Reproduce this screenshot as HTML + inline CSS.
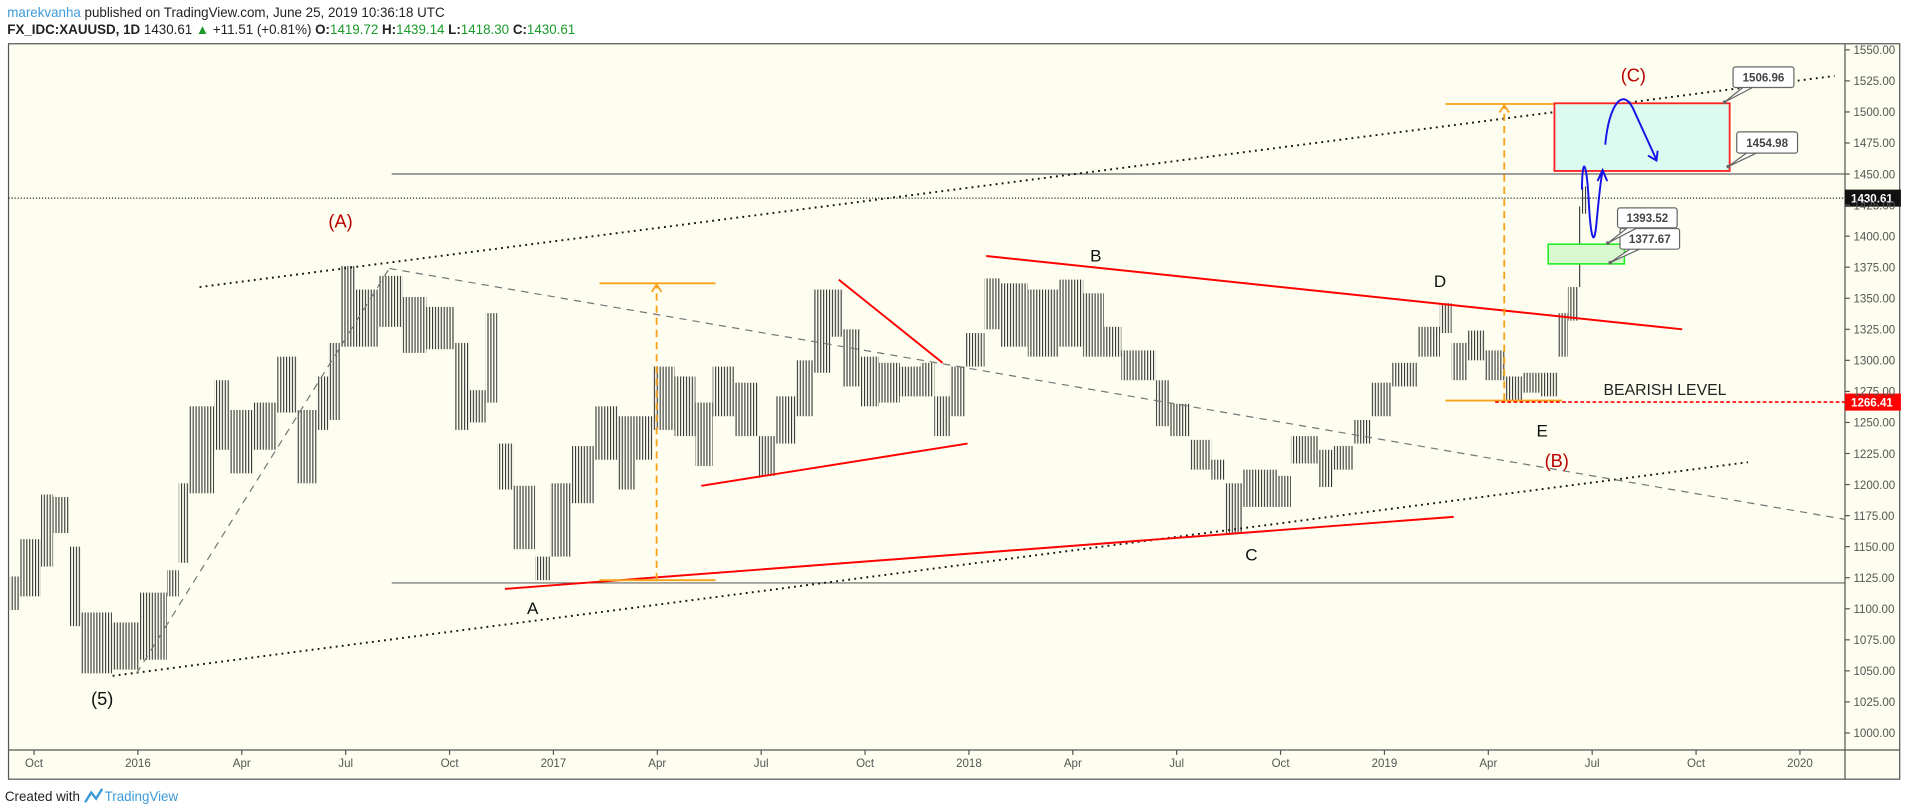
<!DOCTYPE html>
<html><head><meta charset="utf-8">
<style>
html,body{margin:0;padding:0;background:#fff;}
svg{display:block;font-family:"Liberation Sans",sans-serif;}
</style></head>
<body>
<svg id="chart" width="1907" height="812" viewBox="0 0 1568 668" preserveAspectRatio="none" xmlns="http://www.w3.org/2000/svg">
<defs>
<pattern id="stripes" width="2.4" height="10" patternUnits="userSpaceOnUse">
<rect x="0" y="0" width="0.9" height="10" fill="#333"/>
</pattern>
</defs>
<g>
<text x="6" y="14" font-size="11" fill="#222"><tspan fill="#3d9ad8">marekvanha</tspan> published on TradingView.com, June 25, 2019 10:36:18 UTC</text>
<text x="6" y="28" font-size="11" fill="#222"><tspan font-weight="bold">FX_IDC:XAUUSD, 1D</tspan> 1430.61 <tspan fill="#1a9a2a">▲</tspan> +11.51 (+0.81%) <tspan font-weight="bold">O:</tspan><tspan fill="#1a9a2a">1419.72</tspan> <tspan font-weight="bold">H:</tspan><tspan fill="#1a9a2a">1439.14</tspan> <tspan font-weight="bold">L:</tspan><tspan fill="#1a9a2a">1418.30</tspan> <tspan font-weight="bold">C:</tspan><tspan fill="#1a9a2a">1430.61</tspan></text>
</g>
<rect x="7" y="36" width="1555" height="605" fill="#fdfdf0" stroke="#555" stroke-width="1"/>
<line x1="1517" y1="36" x2="1517" y2="641" stroke="#555" stroke-width="1"/>
<line x1="7" y1="617" x2="1562" y2="617" stroke="#555" stroke-width="1"/>
<g id="grid"></g>
<g id="candles"></g>
<g id="overlays"></g>
<g id="axes"></g>
<g>
<text x="4" y="659" font-size="11" fill="#222">Created with</text>
<path d="M70 660 L75 652 L79 657 L84 649" fill="none" stroke="#3d9ad8" stroke-width="2"/>
<text x="86" y="659" font-size="11" fill="#3d9ad8">TradingView</text>
</g>
</svg>
<script>
// ---- data (t = months since 1 Oct 2015) ----
const barStart = [-0.7,-0.4,0.2,0.55,1.0,1.35,2.25,3.05,3.84,4.18,4.47,5.2,5.66,6.34,7.02,7.59,8.16,8.5,8.84,9.29,9.97,10.65,11.33,12.13,12.58,13.04,13.38,13.85,14.47,14.9,15.5,16.2,16.85,17.36,17.88,18.5,19.1,19.6,20.25,20.9,21.4,22.0,22.5,23.0,23.35,23.86,24.4,25.0,25.6,26.0,26.45,26.9,27.45,27.9,28.7,29.6,30.3,30.9,31.4,32.4,32.8,33.4,34.0,34.4,34.9,35.9,36.3,37.1,37.5,38.1,38.6,39.2,39.95,40.6,40.94,41.4,41.9,42.5,43.0,43.5,44.0,44.3,44.6,44.7];
const barLow = [1099,1110,1134,1161,1086,1048,1051,1059,1110,1137,1193,1228,1209,1228,1258,1201,1244,1252,1311,1311,1327,1306,1309,1244,1250,1266,1196,1148,1123,1142,1185,1220,1196,1220,1244,1239,1215,1255,1239,1207,1233,1255,1290,1319,1279,1263,1266,1271,1271,1239,1255,1295,1325,1311,1303,1311,1303,1303,1284,1247,1239,1212,1204,1161,1182,1182,1217,1198,1212,1233,1255,1279,1303,1322,1284,1300,1284,1268,1274,1271,1303,1332,1359,1418];
const barHigh = [1126,1156,1192,1190,1150,1097,1089,1113,1131,1201,1263,1284,1260,1266,1303,1260,1287,1314,1376,1357,1368,1351,1343,1314,1276,1338,1233,1199,1142,1201,1231,1263,1255,1255,1295,1287,1266,1295,1282,1239,1271,1300,1357,1357,1325,1303,1298,1295,1298,1271,1295,1322,1366,1362,1357,1365,1354,1327,1308,1284,1265,1236,1220,1201,1212,1207,1239,1228,1231,1252,1282,1298,1327,1346,1314,1324,1308,1287,1290,1290,1338,1359,1424,1440];
const lastBarEnd = 44.85;
const priceTicks = [1550,1525,1500,1475,1450,1425,1400,1375,1350,1325,1300,1275,1250,1225,1200,1175,1150,1125,1100,1075,1050,1025,1000];
const timeLabels = ['Oct','2016','Apr','Jul','Oct','2017','Apr','Jul','Oct','2018','Apr','Jul','Oct','2019','Apr','Jul','Oct','2020'];
const timeTickMonths = [0,3,6,9,12,15,18,21,24,27,30,33,36,39,42,45,48,51];
const lastPrice = 1430.61;
const bearishLevel = 1266.41;

const X = t => 28 + t*28.47;
const Y = p => 41 + (1550-p)*1.0218;
const NS = 'http://www.w3.org/2000/svg';
function mk(tag, attrs, parent){const e=document.createElementNS(NS,tag);for(const k in attrs)e.setAttribute(k,attrs[k]);parent.appendChild(e);return e;}

// candles
const cg = document.getElementById('candles');
for(let i=0;i<barStart.length;i++){
  const t0=barStart[i], t1=(i+1<barStart.length)?barStart[i+1]:lastBarEnd;
  const r = mk('rect',{x:X(t0),y:Y(barHigh[i]),width:Math.max(1,X(t1)-X(t0)),height:Math.max(2,Y(barLow[i])-Y(barHigh[i])),fill:'url(#stripes)'},cg);
  
  
}

// axes
const ax = document.getElementById('axes');
priceTicks.forEach(p=>{
  mk('line',{x1:1517,y1:Y(p),x2:1521,y2:Y(p),stroke:'#555'},ax);
  const tx = mk('text',{x:1524,y:Y(p)+3.5,'font-size':9.5,fill:'#555'},ax);
  tx.textContent = p.toFixed(2);
  
  
});
timeLabels.forEach((lab,i)=>{
  const x = X(timeTickMonths[i]);
  mk('line',{x1:x,y1:617,x2:x,y2:621,stroke:'#555'},ax);
  const tx = mk('text',{x:x,y:631,'font-size':9.5,fill:'#555','text-anchor':'middle'},ax);
  tx.textContent = lab;
  
  
});

// overlays
const ov = document.getElementById('overlays');
function ln(t1,p1,t2,p2,st,name){const l=mk('line',Object.assign({x1:X(t1),y1:Y(p1),x2:X(t2),y2:Y(p2)},st),ov);return l;}
const dotted={stroke:'#111','stroke-width':1.6,'stroke-dasharray':'1.5 3.5'};
const red={stroke:'#f00','stroke-width':1.6};
const grayDash={stroke:'#777','stroke-width':1,'stroke-dasharray':'6 5'};
const orange={stroke:'#f7a21b','stroke-width':1.5};
ln(10.33,1450,52.3,1450,{stroke:'#666','stroke-width':1},'resistance-1450');
ln(10.33,1120.8,52.3,1120.8,{stroke:'#666','stroke-width':1},'support-1120');
mk('line',{x1:7,y1:Y(lastPrice),x2:1517,y2:Y(lastPrice),stroke:'#333','stroke-width':1,'stroke-dasharray':'1 1.5'},ov);
ln(4.78,1359,52,1529,dotted,'upper-channel-line');
ln(2.27,1046,49.5,1218,dotted,'lower-channel-line');
ln(2.96,1048,10.26,1374,grayDash,'rising-dashed-line');
ln(10.26,1374,52.3,1172,grayDash,'falling-dashed-line');
ln(13.6,1116,41.0,1174,red,'triangle-lower-line');
ln(19.27,1199,26.96,1233,red,'flag-lower-line');
ln(23.24,1365,26.24,1298,red,'flag-upper-line');
ln(27.5,1384,47.6,1325,red,'triangle-upper-line');
ln(16.33,1362,19.68,1362,orange,'target-top-1');
ln(16.33,1123,19.68,1123,orange,'target-base-1');
ln(17.98,1123,17.98,1362,{stroke:'#f7a21b','stroke-width':1.5,'stroke-dasharray':'6 4'},'measure-arrow-1');
mk('path',{d:`M${X(17.98)-4} ${Y(1362)+7} L${X(17.98)} ${Y(1362)+1} L${X(17.98)+4} ${Y(1362)+7}`,fill:'none',stroke:'#f7a21b','stroke-width':1.5},ov);
ln(40.76,1506.4,44.13,1506.4,orange,'target-top-2');
ln(40.76,1267.6,44.13,1267.6,orange,'target-base-2');
ln(42.46,1267.6,42.46,1506.4,{stroke:'#f7a21b','stroke-width':1.5,'stroke-dasharray':'6 4'},'measure-arrow-2');
mk('path',{d:`M${X(42.46)-4} ${Y(1506.4)+7} L${X(42.46)} ${Y(1506.4)+1} L${X(42.46)+4} ${Y(1506.4)+7}`,fill:'none',stroke:'#f7a21b','stroke-width':1.5},ov);
mk('line',{x1:X(42.2),y1:Y(bearishLevel),x2:1517,y2:Y(bearishLevel),stroke:'#f00','stroke-width':1.3,'stroke-dasharray':'3 2'},ov);
const tb=mk('rect',{x:X(43.91),y:Y(1506.96),width:X(48.97)-X(43.91),height:Y(1452.5)-Y(1506.96),fill:'#dcfbf0',stroke:'#f22','stroke-width':1.5},ov);


const gb=mk('rect',{x:X(43.73),y:Y(1393.52),width:X(45.93)-X(43.73),height:Y(1377.67)-Y(1393.52),fill:'#d8f8d0',stroke:'#2e2','stroke-width':1.3},ov);


mk('path',{d:'M1300.7 156 C1301 130 1304 130 1306 160 C1308 200 1311 205 1313 180 C1315 160 1316 148 1317.7 141',fill:'none',stroke:'#1414e6','stroke-width':1.6},ov);
mk('path',{d:'M1313.5 149 L1317.7 140 L1321.5 149',fill:'none',stroke:'#1414e6','stroke-width':1.6},ov);
mk('path',{d:'M1319.9 119 C1323 85 1335 70 1344 92 C1350 105 1356 118 1361.8 131',fill:'none',stroke:'#1414e6','stroke-width':1.6},ov);
mk('path',{d:'M1355 128 L1362 132 L1363 124',fill:'none',stroke:'#1414e6','stroke-width':1.6},ov);
function callout(bx,by,bw,bh,px,py,txt,name){
  mk('path',{d:`M${bx+8} ${by+bh} L${px} ${py} L${bx+16} ${by+bh}`,fill:'#fff',stroke:'#666','stroke-width':1},ov);
  const r=mk('rect',{x:bx,y:by,width:bw,height:bh,rx:2,fill:'#fff',stroke:'#666','stroke-width':1},ov);
  
  
  mk('circle',{cx:px,cy:py,r:1.5,fill:'#666'},ov);
  const t=mk('text',{x:bx+bw/2,y:by+bh/2+3.5,'font-size':9.5,'text-anchor':'middle',fill:'#444','font-weight':'bold'},ov);
  t.textContent=txt;
}
callout(1425,55,50,17,1418,84,'1506.96','callout-1506');
callout(1428,108.5,50,17.5,1421,137,'1454.98','callout-1454');
callout(1332,188,49,17,1324,216,'1377.67','callout-1377');
callout(1330,171,49,16.5,1322,200,'1393.52','callout-1393');
const lp=mk('rect',{x:1517,y:Y(lastPrice)-7,width:46,height:14,fill:'#111'},ov);


let tt=mk('text',{x:1522,y:Y(lastPrice)+3.5,'font-size':9.5,fill:'#fff','font-weight':'bold'},ov); tt.textContent=lastPrice.toFixed(2);
const bl=mk('rect',{x:1517,y:Y(bearishLevel)-7,width:46,height:14,fill:'#f00'},ov);


tt=mk('text',{x:1522,y:Y(bearishLevel)+3.5,'font-size':9.5,fill:'#fff','font-weight':'bold'},ov); tt.textContent=bearishLevel.toFixed(2);
function lab(x,y,txt,col,size,name){const t=mk('text',{x:x,y:y,'font-size':size,fill:col,'text-anchor':'middle'},ov);t.textContent=txt;}
lab(280,187,'(A)','#b00','15','wave-label-a-major');
lab(1343,67,'(C)','#b00','15','wave-label-c-major');
lab(1280,384,'(B)','#b00','15','wave-label-b-major');
lab(84,580,'(5)','#111','15','wave-label-5');
lab(438,505,'A','#111','14','wave-label-a');
lab(901,215,'B','#111','14','wave-label-b');
lab(1029,461,'C','#111','14','wave-label-c');
lab(1184,236,'D','#111','14','wave-label-d');
lab(1268,359,'E','#111','14','wave-label-e');
lab(1369,325,'BEARISH LEVEL','#222','13','bearish-level-text');
</script>
</body></html>
